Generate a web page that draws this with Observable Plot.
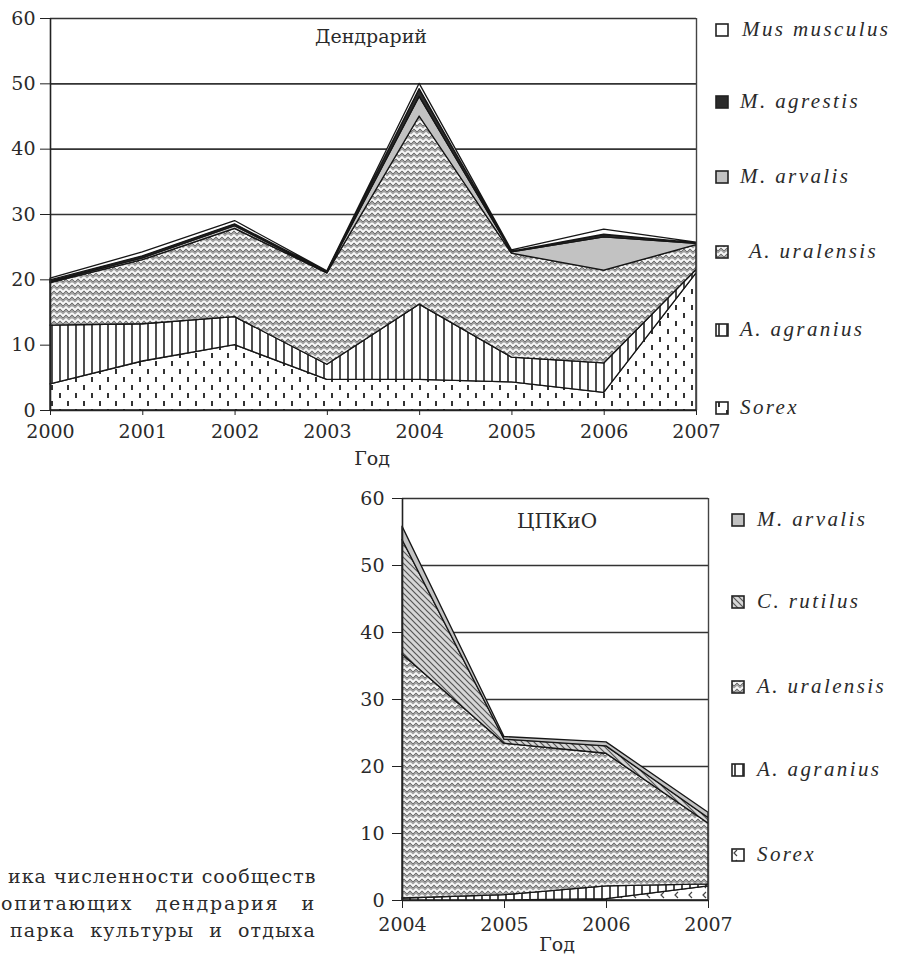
<!DOCTYPE html>
<html><head><meta charset="utf-8">
<script src="https://cdn.jsdelivr.net/npm/d3@7"></script>
<script src="https://cdn.jsdelivr.net/npm/@observablehq/plot@0.6"></script>
<style>
body{margin:0;background:#fff;font-family:"DejaVu Serif",serif;color:#2a2a2a;}
#wrap{position:relative;width:902px;height:956px;overflow:hidden;}
#wrap svg text{font-family:"DejaVu Serif",serif !important;}
.abs{position:absolute;white-space:nowrap;}
.leg{position:absolute;display:flex;align-items:center;font-family:"Liberation Serif",serif;font-style:italic;font-size:21px;line-height:21px;letter-spacing:2.4px;white-space:nowrap;color:#2a2a2a;}
.cap{position:absolute;font-size:19px;line-height:19px;white-space:nowrap;letter-spacing:1px;text-align:justify;text-align-last:justify;}
</style></head>
<body>
<svg width="0" height="0" style="position:absolute">
  <defs>
    <pattern id="pSorex" width="16" height="16" patternUnits="userSpaceOnUse">
      <rect width="16" height="16" fill="#fff"/>
      <rect x="3" y="1" width="2" height="5" fill="#333"/>
      <rect x="11" y="9" width="2" height="5" fill="#333"/>
    </pattern>
    <pattern id="pAgr" width="8" height="8" patternUnits="userSpaceOnUse">
      <rect width="8" height="8" fill="#fff"/>
      <path d="M4,0V8" stroke="#222" stroke-width="1.6"/>
    </pattern>
    <pattern id="pUral" width="12" height="12" patternUnits="userSpaceOnUse">
      <rect width="12" height="12" fill="#a2a2a2"/>
      <path d="M0,1 L3,4 L6,1 L9,4 L12,1 M0,7 L3,10 L6,7 L9,10 L12,7" fill="none" stroke="#f8f8f8" stroke-width="1.8"/>
      <path d="M0,3 L3,6 L6,3 L9,6 L12,3 M0,9 L3,12 L6,9 L9,12 L12,9" fill="none" stroke="#5a5a5a" stroke-width="0.7"/>
    </pattern>
    <pattern id="pRut" width="6" height="6" patternUnits="userSpaceOnUse">
      <rect width="6" height="6" fill="#d6d6d6"/>
      <path d="M-1,-1 L7,7 M-1,5 L1,7 M5,-1 L7,1" stroke="#555" stroke-width="1.2"/>
    </pattern>
    <pattern id="pSorex2" width="14" height="10" patternUnits="userSpaceOnUse">
      <rect width="14" height="10" fill="#fff"/>
      <path d="M6,2 L3,5 L6,8" fill="none" stroke="#444" stroke-width="1.2"/>
    </pattern>
  </defs>
</svg>
<div id="wrap"></div>
<script>
// ---------- Data: Дендрарий ----------
const years1 = [2000, 2001, 2002, 2003, 2004, 2005, 2006, 2007];
const species1 = ["Sorex", "A. agranius", "A. uralensis", "M. arvalis", "M. agrestis", "Mus musculus"];
const sorex1     = [4.0, 7.5, 10.0, 4.7, 4.7, 4.3, 2.7, 21.0];
const agranius1  = [9.0, 5.7, 4.3, 2.3, 11.5, 3.8, 4.5, 0.5];
const uralensis1 = [6.5, 9.8, 13.5, 14.0, 28.8, 15.9, 14.2, 3.8];
const arvalis1   = [0.2, 0.3, 0.4, 0.1, 3.0, 0.2, 5.1, 0.2];
const agrestis1  = [0.2, 0.3, 0.3, 0.1, 1.2, 0.1, 0.4, 0.1];
const musculus1  = [0.3, 0.6, 0.5, 0.1, 0.8, 0.2, 0.8, 0.1];

// ---------- Data: ЦПКиО ----------
const years2 = [2004, 2005, 2006, 2007];
const species2 = ["Sorex", "A. agranius", "A. uralensis", "C. rutilus", "M. arvalis"];
const sorex2     = [0.0, 0.0, 0.2, 2.1];
const agranius2  = [0.3, 0.8, 1.9, 0.3];
const uralensis2 = [36.4, 22.6, 19.8, 9.1];
const rutilus2   = [17.1, 0.6, 1.1, 0.8];
const arvalis2   = [2.0, 0.4, 0.6, 0.8];

const yTicks = [0, 10, 20, 30, 40, 50, 60];
const gridTicks = [10, 20, 30, 40, 50, 60];

const fills1 = ["url(#pSorex)", "url(#pAgr)", "url(#pUral)", "#c2c2c2", "#2b2b2b", "#ffffff"];
const fills2 = ["url(#pSorex2)", "url(#pAgr)", "url(#pUral)", "url(#pRut)", "#c2c2c2"];

function tidy(years, species, series) {
  return species.flatMap((s, i) => years.map((y, j) => ({year: y, species: s, value: series[i][j]})));
}
const data1 = tidy(years1, species1, [sorex1, agranius1, uralensis1, arvalis1, agrestis1, musculus1]);
const data2 = tidy(years2, species2, [sorex2, agranius2, uralensis2, rutilus2, arvalis2]);

const wrap = document.getElementById("wrap");
const FONT = "DejaVu Serif, serif";

function chart(data, years, species, fills, opts) {
  const p = Plot.plot({
    width: opts.width, height: opts.height,
    marginLeft: opts.marginLeft, marginRight: 4, marginTop: 18, marginBottom: opts.marginBottom,
    style: "overflow: visible; font-family: 'DejaVu Serif', serif; font-size: 19px; color: #2a2a2a; background: transparent;",
    x: {domain: [years[0], years[years.length - 1]]},
    y: {domain: [0, 60]},
    color: {domain: species, range: fills},
    marks: [
      Plot.gridY(gridTicks, {stroke: "#333", strokeOpacity: 1, strokeWidth: 1.6}),
      Plot.areaY(data, Plot.stackY({x: "year", y: "value", z: "species", fill: "species", order: species,
        stroke: "#161616", strokeWidth: 1.3, strokeLinejoin: "round"})),
      Plot.ruleX([years[0]], {stroke: "#222", strokeWidth: 1.6}),
      Plot.ruleX([years[years.length - 1]], {stroke: "#444", strokeWidth: 1.4}),
      Plot.ruleY([0], {stroke: "#222", strokeWidth: 1.6}),
      Plot.axisY({ticks: yTicks, tickSize: 10, tickPadding: opts.yPad, label: null, stroke: "#222", fontFamily: FONT, fontSize: 19}),
      Plot.axisX({ticks: years, tickFormat: d => String(d), tickSize: opts.xTick, tickPadding: 9, label: null, stroke: "#222", fontFamily: FONT, fontSize: 19})
    ]
  });
  p.style.position = "absolute";
  p.style.left = opts.left + "px";
  p.style.top = opts.top + "px";
  p.style.maxWidth = "none";
  wrap.appendChild(p);
}

chart(data1, years1, species1, fills1, {width: 700, height: 475, marginLeft: 50, marginBottom: 65, left: 0, top: 0, yPad: 5, xTick: 5});
chart(data2, years2, species2, fills2, {width: 362, height: 476, marginLeft: 52, marginBottom: 56, left: 350, top: 480, yPad: 8, xTick: 8});

function text(str, left, top, width, size, align) {
  const d = document.createElement("div");
  d.className = "abs";
  d.textContent = str;
  Object.assign(d.style, {left: left + "px", top: top + "px", width: width + "px", fontSize: size + "px", lineHeight: size + "px", textAlign: align || "center"});
  wrap.appendChild(d);
}
text("Дендрарий", 271, 27, 200, 19);
text("Год", 322, 449, 100, 19);
text("ЦПКиО", 457, 511, 200, 20);
text("Год", 507, 935, 100, 19);

function legend(species, fills, x0, xt, rows) {
  species.forEach((s, i) => {
    const d = document.createElement("div");
    d.className = "leg";
    d.style.left = x0 + "px";
    d.style.top = (rows[i] - 11) + "px";
    d.innerHTML = `<svg width="14" height="14" style="flex:none"><rect x="1" y="1" width="12" height="12" fill="${fills[i]}" stroke="#222" stroke-width="1.6"/></svg><span style="margin-left:${xt[i] - x0 - 14}px">${s}</span>`;
    wrap.appendChild(d);
  });
}
// top legend: listed top to bottom
const legOrder1 = [5, 4, 3, 2, 1, 0];
legend(legOrder1.map(i => species1[i]), legOrder1.map(i => fills1[i]),
  715, [742, 740, 740, 749, 740, 740], [30, 102, 177, 252, 330, 408]);
const legOrder2 = [4, 3, 2, 1, 0];
legend(legOrder2.map(i => species2[i]), legOrder2.map(i => fills2[i]),
  731, [757, 757, 757, 757, 757], [520, 602, 687, 770, 855]);

// caption fragment (bottom left)
const capLines = ["ика численности сообществ", "опитающих  дендрария  и", "парка культуры и отдыха"];
const capTops = [867, 894, 921];
const capLeft = [8, 1, 10];
const capSpacing = [1, 1.8, 1.2];
capLines.forEach((t, i) => {
  const d = document.createElement("div");
  d.className = "cap";
  d.textContent = t;
  Object.assign(d.style, {left: capLeft[i] + "px", width: (316 - capLeft[i]) + "px", top: capTops[i] + "px", letterSpacing: capSpacing[i] + "px"});
  wrap.appendChild(d);
});
</script>
</body></html>
